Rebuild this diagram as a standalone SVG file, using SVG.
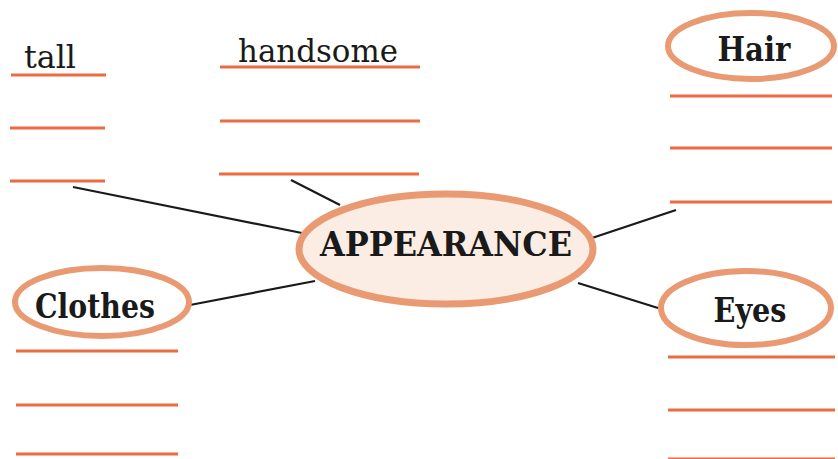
<svg xmlns="http://www.w3.org/2000/svg" width="838" height="459" viewBox="0 0 838 459">
<style>
.ul{stroke:#EC6B40;stroke-width:3;fill:none}
.con{stroke:#1a1a1a;stroke-width:2.2;fill:none}
.ov{fill:#fff;stroke:#E99A72;stroke-width:6}
.lbl{font-family:"DejaVu Serif","Liberation Serif",serif;font-weight:bold;font-size:33px;fill:#1a1a1a;text-anchor:middle}
.word{font-family:"DejaVu Serif","Liberation Serif",serif;font-size:31px;fill:#1a1a1a}
</style>
<rect width="838" height="459" fill="#fff"/>
<g id="connectors">
<line class="con" x1="73" y1="187" x2="302" y2="233"/>
<line class="con" x1="291" y1="180" x2="340" y2="205"/>
<line class="con" x1="190" y1="305" x2="315" y2="281"/>
<line class="con" x1="592" y1="238" x2="676" y2="210"/>
<line class="con" x1="578" y1="283" x2="658" y2="308"/>
</g>
<g id="left-list">
<text class="word" x="24" y="68" textLength="52" lengthAdjust="spacingAndGlyphs">tall</text>
<line class="ul" x1="11" y1="75" x2="106" y2="75"/>
<line class="ul" x1="10" y1="128" x2="105" y2="128"/>
<line class="ul" x1="10" y1="181" x2="105" y2="181"/>
</g>
<g id="middle-list">
<text class="word" x="238" y="62" textLength="160" lengthAdjust="spacingAndGlyphs">handsome</text>
<line class="ul" x1="220" y1="67" x2="420" y2="67"/>
<line class="ul" x1="220" y1="121" x2="420" y2="121"/>
<line class="ul" x1="219" y1="174" x2="419" y2="174"/>
</g>
<g id="appearance">
<ellipse cx="446" cy="249" rx="147" ry="55" fill="#FBEDE3" stroke="#E99A72" stroke-width="7"/>
<text class="lbl" x="446" y="256" textLength="252" lengthAdjust="spacingAndGlyphs">APPEARANCE</text>
</g>
<g id="hair">
<ellipse class="ov" cx="751" cy="46" rx="83" ry="33"/>
<text class="lbl" x="754" y="61" textLength="73" lengthAdjust="spacingAndGlyphs">Hair</text>
<line class="ul" x1="670" y1="96" x2="832" y2="96"/>
<line class="ul" x1="670" y1="148" x2="832" y2="148"/>
<line class="ul" x1="670" y1="202" x2="832" y2="202"/>
</g>
<g id="clothes">
<ellipse class="ov" cx="102" cy="302" rx="87" ry="34"/>
<text class="lbl" x="95" y="318" textLength="120" lengthAdjust="spacingAndGlyphs">Clothes</text>
<line class="ul" x1="16" y1="351" x2="178" y2="351"/>
<line class="ul" x1="16" y1="405" x2="178" y2="405"/>
<line class="ul" x1="16" y1="454" x2="178" y2="454"/>
</g>
<g id="eyes">
<ellipse class="ov" cx="746" cy="308" rx="85" ry="37"/>
<text class="lbl" x="750" y="322" textLength="73" lengthAdjust="spacingAndGlyphs">Eyes</text>
<line class="ul" x1="668" y1="357" x2="835" y2="357"/>
<line class="ul" x1="668" y1="410" x2="835" y2="410"/>
<line class="ul" x1="668" y1="459" x2="835" y2="459"/>
</g>
</svg>
